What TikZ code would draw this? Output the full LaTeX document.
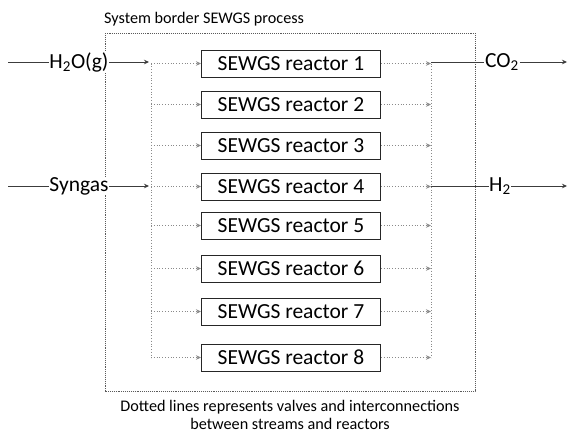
\documentclass[tikz,border=0pt]{standalone}
\usepackage{fontspec}
\setmainfont{Carlito}
\usetikzlibrary{arrows.meta}
\definecolor{linegray}{HTML}{3C3C3C}
\definecolor{dotgray}{HTML}{8A8A8A}
\definecolor{bordergray}{HTML}{5A5A5A}
\tikzset{
  reactor/.style={draw=black!85, line width=0.9pt, minimum width=179pt, minimum height=27pt,
    inner sep=0pt, anchor=west, font=\fontsize{21.5}{24}\selectfont},
  stream/.style={inner sep=0.5pt, fill=white, font=\fontsize{21.5}{24}\selectfont},
  note/.style={inner sep=0pt, font=\fontsize{16.2}{18.5}\selectfont},
  solidline/.style={draw=linegray, line width=0.8pt},
  tip/.style={-{Stealth[length=5pt,width=4.5pt]}},
  valve/.style={draw=dotgray, line width=0.8pt, dotted},
  border/.style={draw=bordergray, line width=0.9pt, densely dotted},
}
\begin{document}
\begin{tikzpicture}[x=1pt, y=-1pt]
\useasboundingbox (0,0) rectangle (569,434);

% system border
\draw[border] (105,33) rectangle (475,391);
\node[note, anchor=west] (title) at (104,19) {System border SEWGS process};

% reactors
\foreach \i/\yy in {1/63.5, 2/104.5, 3/145.5, 4/186.5, 5/225.5, 6/268.5, 7/311.5, 8/357.5}{
  \node[reactor] (r\i) at (201,\yy) {SEWGS reactor \i};
  \coordinate (inL\i) at (151,\yy);
  \coordinate (outR\i) at (431,\yy);
  \draw[valve, tip] (inL\i) -- (r\i.west);
  \draw[valve, tip] (r\i.east) -- (outR\i);
}
\draw[valve] (inL1) -- (inL8);
\draw[valve] (outR1) -- (outR8);

% feed streams
\coordinate (h2oStart) at (8,62);
\node[stream] (h2o) at (79,62) {H\textsubscript{2}O(g)};
\coordinate (h2oEnd) at (149,62);
\draw[solidline] (h2oStart) -- (h2o.west);
\draw[solidline, tip] (h2o.east) -- (h2oEnd);

\coordinate (synStart) at (8,186);
\node[stream] (syngas) at (79,186) {Syngas};
\coordinate (synEnd) at (149,186);
\draw[solidline] (synStart) -- (syngas.west);
\draw[solidline, tip] (syngas.east) -- (synEnd);

% product streams
\coordinate (co2Start) at (431,62);
\node[stream] (co2) at (502,62) {CO\textsubscript{2}};
\coordinate (co2End) at (567,62);
\draw[solidline] (co2Start) -- (co2.west);
\draw[solidline, tip] (co2.east) -- (co2End);

\coordinate (h2Start) at (431,186);
\node[stream] (h2) at (500,186) {H\textsubscript{2}};
\coordinate (h2End) at (567,186);
\draw[solidline] (h2Start) -- (h2.west);
\draw[solidline, tip] (h2.east) -- (h2End);

% explanatory note
\node[note, align=center] (legend) at (290,415)
  {Dotted lines represents valves and interconnections\\between streams and reactors};
\end{tikzpicture}
\end{document}
